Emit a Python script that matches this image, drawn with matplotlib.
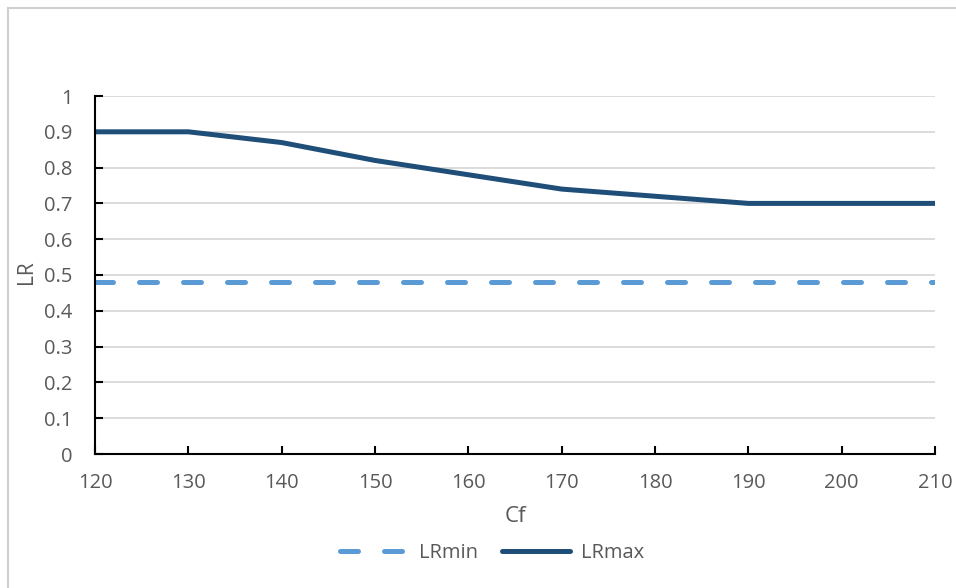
import matplotlib.pyplot as plt
from matplotlib.patches import Rectangle
from matplotlib.ticker import FuncFormatter

cf = [120, 130, 140, 150, 160, 170, 180, 190, 200, 210]
lr_min = [0.48, 0.48, 0.48, 0.48, 0.48, 0.48, 0.48, 0.48, 0.48, 0.48]
lr_max = [0.90, 0.90, 0.87, 0.82, 0.78, 0.74, 0.72, 0.70, 0.70, 0.70]
y_ticks = [0, 0.1, 0.2, 0.3, 0.4, 0.5, 0.6, 0.7, 0.8, 0.9, 1]

text_color = "#595959"
plt.rcParams["font.family"] = ["Open Sans", "DejaVu Sans"]

W, H = 956, 588
fig = plt.figure(figsize=(W / 100, H / 100), dpi=100)
ax = fig.add_axes([95 / W, 1 - 454 / H, (935 - 95) / W, (454 - 96) / H])

# chart border (only top/left edges visible in the reference)
fig.add_artist(Rectangle((8 / W, -0.02), 1.0, 1 - 8 / H + 0.02, transform=fig.transFigure,
                         fill=False, edgecolor="#D0D0D0", linewidth=1.5))

ax.plot(cf, lr_min, color="#5B9BD5", linewidth=3.6, dashes=(3.6, 5.2),
        dash_capstyle="round", label="LRmin")
ax.plot(cf, lr_max, color="#1F4E79", linewidth=3.6, solid_capstyle="round", label="LRmax")

ax.set_xlim(120, 210)
ax.set_ylim(0, 1)
ax.set_xticks(range(120, 211, 10))
ax.set_yticks(y_ticks)
ax.yaxis.set_major_formatter(FuncFormatter(lambda v, p: f"{v:g}"))
ax.grid(axis="y", color="#D9D9D9", linewidth=1.3)
ax.set_axisbelow(True)

for s in ["top", "right"]:
    ax.spines[s].set_visible(False)
for s in ["left", "bottom"]:
    ax.spines[s].set_color("black")
    ax.spines[s].set_linewidth(1.5)
ax.tick_params(direction="in", length=6, width=1.5, color="black",
               labelsize=14.5, labelcolor=text_color)
ax.tick_params(axis="x", pad=14)
ax.tick_params(axis="y", pad=16)

ax.set_xlabel("Cf", fontsize=16, color=text_color)
ax.xaxis.set_label_coords(0.5, -(517 - 454) / 358, transform=ax.transAxes)
ax.xaxis.label.set_va("center")
ax.set_ylabel("LR", fontsize=15, color=text_color)
ax.yaxis.set_label_coords(-(95 - 37) / 840, (454 - 272) / 358)

fig.legend(loc="center", bbox_to_anchor=(492 / W, 1 - 553 / H), ncol=2, frameon=False,
           fontsize=14.5, labelcolor=text_color, handlelength=3.4, columnspacing=1.2,
           handletextpad=0.5)

fig.savefig("out.png", dpi=100, facecolor="white")
